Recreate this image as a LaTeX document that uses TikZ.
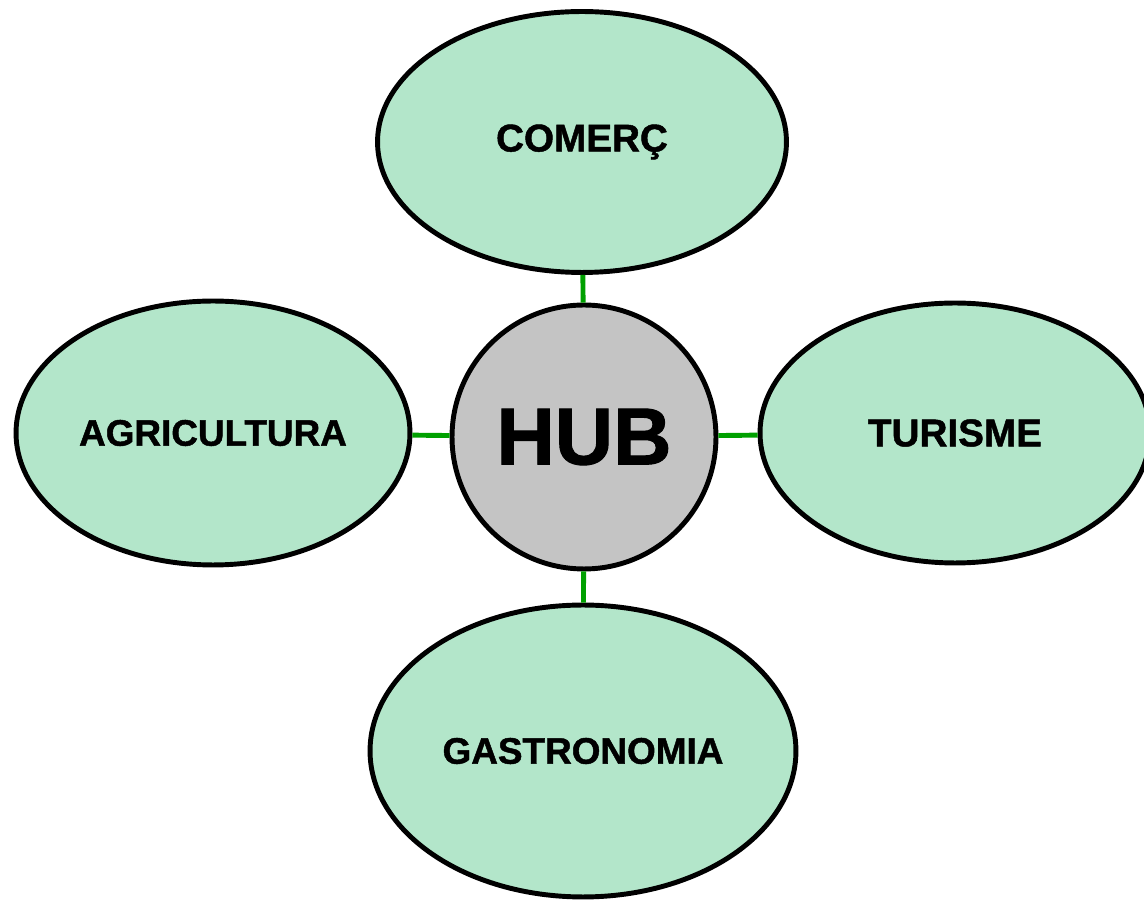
\documentclass[tikz,border=0pt]{standalone}
\usepackage{fontspec}
\setmainfont{Liberation Sans}
\newfontfamily\heavyfont{Liberation Sans}[BoldFeatures={FakeBold=1.2}]
\usepackage{xcolor}
\usetikzlibrary{shapes.geometric}
\definecolor{mint}{HTML}{B3E6CA}
\definecolor{hubgray}{HTML}{C4C4C4}
\definecolor{linkgreen}{HTML}{00A000}

\begin{document}
\begin{tikzpicture}[x=0.02cm, y=-0.02cm,
  area/.style={ellipse, draw, line width=2.8pt, fill=mint, inner sep=0pt, font=\heavyfont\bfseries\fontsize{22}{24}\selectfont},
  hubnode/.style={circle, draw, line width=2.8pt, fill=hubgray, minimum size=5.28cm, font=\heavyfont\bfseries\fontsize{46}{50}\selectfont},
  link/.style={linkgreen, line width=2.8pt}]
  \useasboundingbox (0,0) rectangle (1144,901);

  % centre
  \node[hubnode] (hub) at (584,437) {HUB};

  % the four areas around it
  \node[area, minimum width=8.18cm, minimum height=5.22cm] (comerc) at (582,142) {COMERÇ};
  \node[area, minimum width=7.88cm, minimum height=5.28cm] (agri) at (213,433) {\fontsize{21}{24}\selectfont AGRICULTURA};
  \node[area, minimum width=7.8cm, minimum height=5.2cm] (turisme) at (955,433) {TURISME};
  \node[area, minimum width=8.52cm, minimum height=5.84cm] (gastro) at (583,751) {\fontsize{21}{24}\selectfont GASTRONOMIA};

  % links
  \draw[link] (hub) -- (comerc);
  \draw[link] (hub) -- (agri);
  \draw[link] (hub) -- (turisme);
  \draw[link] (hub) -- (gastro);
\end{tikzpicture}
\end{document}
